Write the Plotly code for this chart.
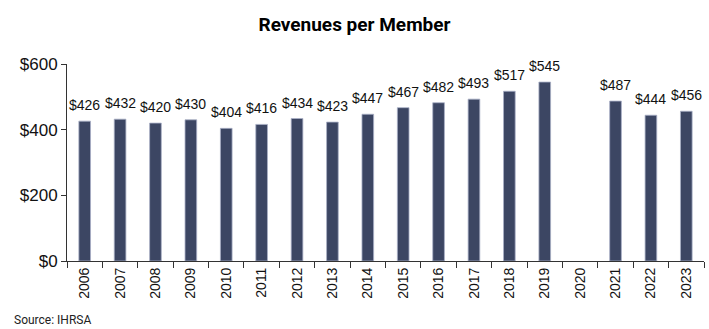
import plotly.graph_objects as go

years = [str(y) for y in range(2006, 2024)]
values = [426, 432, 420, 430, 404, 416, 434, 423, 447, 467, 482, 493, 517, 545, None, 487, 444, 456]
labels = [f"${v}" if v is not None else "" for v in values]
y_ticks = [0, 200, 400, 600]
y_tick_text = ["$0", "$200", "$400", "$600"]

fig = go.Figure(go.Bar(
    x=years, y=values, cliponaxis=False,
    marker=dict(color="#3C4663", line=dict(color="#A9B0C6", width=0.8)),
    width=0.33,
))

annotations = [dict(x=i, y=v, text=t, showarrow=False, xanchor="center", yanchor="bottom", yshift=6,
                    font=dict(family="Liberation Sans, Arial", size=14, color="#111111"))
               for i, (v, t) in enumerate(zip(values, labels)) if v is not None]
annotations.append(dict(text="Source: IHRSA", xref="paper", yref="paper", x=-0.087, y=-0.3,
                        xanchor="left", yanchor="middle", showarrow=False,
                        font=dict(family="Roboto, Liberation Sans Narrow", size=12, color="#222222")))

fig.update_layout(
    width=709, height=329,
    margin=dict(l=67, r=5, t=64, b=68),
    paper_bgcolor="white", plot_bgcolor="white",
    showlegend=False,
    title=dict(text="<b>Revenues per Member</b>", x=0.5, xanchor="center", y=0.925, yanchor="middle",
               font=dict(family="Roboto, Liberation Sans Narrow", size=19, color="#000000")),
    xaxis=dict(type="category", categoryorder="array", categoryarray=years,
               range=[-0.5, len(years) - 0.5],
               tickson="boundaries", ticks="outside", ticklen=6, tickcolor="#333333",
               showline=True, linecolor="#333333", linewidth=1, tickangle=-90,
               tickfont=dict(family="Liberation Sans, Arial", size=14, color="#111111"),
               showgrid=False),
    yaxis=dict(range=[0, 600], tickvals=y_ticks, ticktext=y_tick_text, ticks="outside", ticklen=5,
               tickcolor="#333333", showline=True, linecolor="#333333", linewidth=1,
               tickfont=dict(family="Liberation Sans, Arial", size=17, color="#111111"),
               showgrid=False, zeroline=False),
    annotations=annotations,
)

fig.write_html("out.html")
